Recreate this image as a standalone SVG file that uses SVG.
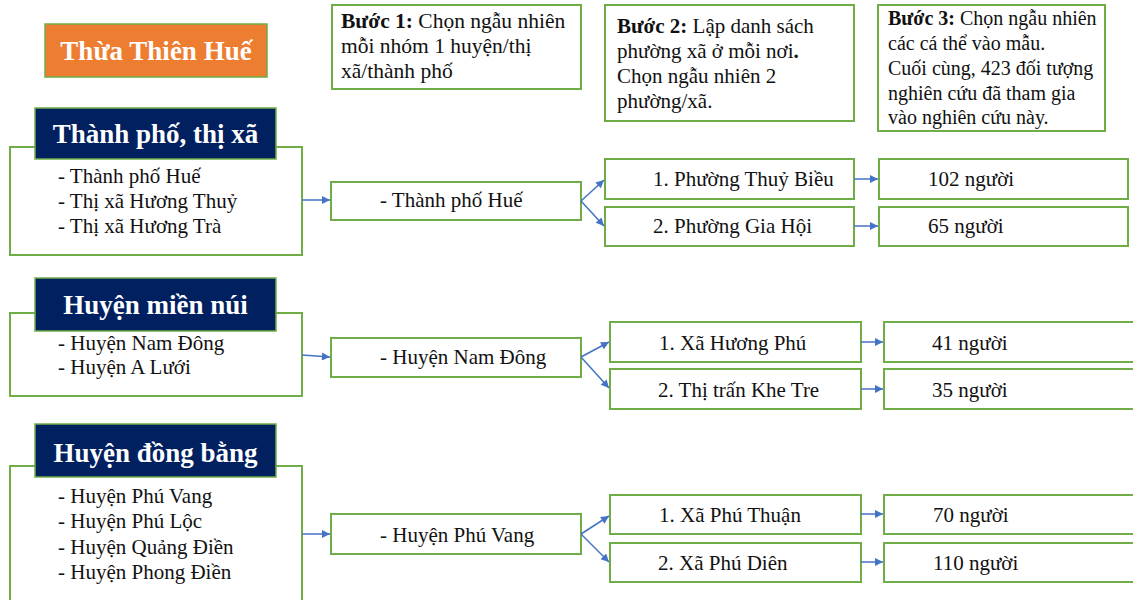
<svg xmlns="http://www.w3.org/2000/svg" width="1133" height="600" viewBox="0 0 1133 600">
<defs>
<marker id="arr" viewBox="0 0 10 10" refX="10" refY="5" markerUnits="userSpaceOnUse" markerWidth="9" markerHeight="8" orient="auto">
<path d="M0,0 L10,5 L0,10 z" fill="#4472C4"/>
</marker>
</defs>
<style>
text{font-family:"Liberation Serif","Times New Roman",serif;fill:#111}
.box{fill:#fff;stroke:#70AD47;stroke-width:2}
.hdr{fill:#002060;stroke:#70AD47;stroke-width:1.5}
.org{fill:#ED7D31;stroke:#70AD47;stroke-width:1.5}
.ht{font-size:27px;font-weight:bold;fill:#fff;text-anchor:middle}
.t{font-size:21px}
.s1{font-size:21.5px}
.s2{font-size:21px}
.s3{font-size:20px}
.b{font-weight:bold}
.c{stroke:#4472C4;stroke-width:1.5;fill:none;marker-end:url(#arr)}
</style>
<rect width="1133" height="600" fill="#fff"/>

<g id="title">
<rect class="org" x="45" y="24" width="222" height="53"/>
<text class="ht" x="156" y="60">Thừa Thiên Huế</text>
</g>

<g id="step1">
<rect class="box" x="332" y="5" width="249" height="84"/>
<text class="s1" x="341" y="28"><tspan class="b">Bước 1:</tspan> Chọn ngẫu nhiên</text>
<text class="s1" x="341" y="53">mỗi nhóm 1 huyện/thị</text>
<text class="s1" x="341" y="78">xã/thành phố</text>
</g>
<g id="step2">
<rect class="box" x="605" y="5" width="249" height="116"/>
<text class="s2" x="617" y="33"><tspan class="b">Bước 2:</tspan> Lập danh sách</text>
<text class="s2" x="617" y="58">phường xã ở mỗi nơi<tspan class="b">.</tspan></text>
<text class="s2" x="617" y="83">Chọn ngẫu nhiên 2</text>
<text class="s2" x="617" y="108">phường/xã.</text>
</g>
<g id="step3">
<rect class="box" x="878" y="5" width="227" height="126"/>
<text class="s3" x="888" y="25"><tspan class="b">Bước 3:</tspan> Chọn ngẫu nhiên</text>
<text class="s3" x="888" y="50">các cá thể vào mẫu.</text>
<text class="s3" x="888" y="75">Cuối cùng, 423 đối tượng</text>
<text class="s3" x="888" y="100">nghiên cứu đã tham gia</text>
<text class="s3" x="888" y="124">vào nghiên cứu này.</text>
</g>

<g id="group1">
<rect class="box" x="10" y="147" width="292" height="108"/>
<rect class="hdr" x="35" y="108" width="241" height="51"/>
<text class="ht" x="155.5" y="143">Thành phố, thị xã</text>
<text class="t" x="58" y="183">- Thành phố Huế</text>
<text class="t" x="58" y="208">- Thị xã Hương Thuỷ</text>
<text class="t" x="58" y="233">- Thị xã Hương Trà</text>
</g>
<g id="group2">
<rect class="box" x="10" y="313" width="292" height="83"/>
<rect class="hdr" x="35" y="278" width="241" height="53"/>
<text class="ht" x="155.5" y="314">Huyện miền núi</text>
<text class="t" x="58" y="350">- Huyện Nam Đông</text>
<text class="t" x="58" y="374">- Huyện A Lưới</text>
</g>
<g id="group3">
<rect class="box" x="10" y="466" width="292" height="150"/>
<rect class="hdr" x="35" y="424" width="241" height="53"/>
<text class="ht" x="155.5" y="462">Huyện đồng bằng</text>
<text class="t" x="58" y="503">- Huyện Phú Vang</text>
<text class="t" x="58" y="528">- Huyện Phú Lộc</text>
<text class="t" x="58" y="554">- Huyện Quảng Điền</text>
<text class="t" x="58" y="579">- Huyện Phong Điền</text>
</g>

<g id="sel1"><rect class="box" x="331" y="182" width="250" height="38"/><text class="t" x="380" y="207">- Thành phố Huế</text></g>
<g id="sel2"><rect class="box" x="331" y="338" width="250" height="39"/><text class="t" x="380" y="364">- Huyện Nam Đông</text></g>
<g id="sel3"><rect class="box" x="331" y="514" width="250" height="40"/><text class="t" x="380" y="542">- Huyện Phú Vang</text></g>

<g id="w1a"><rect class="box" x="605" y="159" width="249" height="40"/><text class="t" x="653" y="186">1. Phường Thuỷ Biều</text></g>
<g id="w1b"><rect class="box" x="605" y="207" width="249" height="39"/><text class="t" x="653" y="233">2. Phường Gia Hội</text></g>
<g id="w2a"><rect class="box" x="610" y="322" width="251" height="40"/><text class="t" x="659" y="350">1. Xã Hương Phú</text></g>
<g id="w2b"><rect class="box" x="610" y="369" width="251" height="40"/><text class="t" x="658" y="397">2. Thị trấn Khe Tre</text></g>
<g id="w3a"><rect class="box" x="610" y="495" width="251" height="39"/><text class="t" x="659" y="522">1. Xã Phú Thuận</text></g>
<g id="w3b"><rect class="box" x="610" y="543" width="251" height="39"/><text class="t" x="658" y="570">2. Xã Phú Diên</text></g>

<g id="n1a"><rect class="box" x="879" y="159" width="249" height="40"/><text class="t" x="928" y="186">102 người</text></g>
<g id="n1b"><rect class="box" x="879" y="207" width="249" height="39"/><text class="t" x="928" y="233">65 người</text></g>
<g id="n2a"><rect class="box" x="884" y="322" width="260" height="40"/><text class="t" x="932" y="350">41 người</text></g>
<g id="n2b"><rect class="box" x="884" y="369" width="260" height="40"/><text class="t" x="932" y="397">35 người</text></g>
<g id="n3a"><rect class="box" x="884" y="495" width="260" height="39"/><text class="t" x="933" y="522">70 người</text></g>
<g id="n3b"><rect class="box" x="884" y="543" width="260" height="39"/><text class="t" x="933" y="570">110 người</text></g>

<g id="connectors">
<path class="c" d="M302,200 L330,200"/>
<path class="c" d="M302,355 L330,357"/>
<path class="c" d="M302,534 L330,534"/>
<path class="c" d="M581,201 L604,180"/>
<path class="c" d="M581,201 L604,226"/>
<path class="c" d="M581,357 L609,342"/>
<path class="c" d="M581,357 L609,388"/>
<path class="c" d="M581,534 L609,516"/>
<path class="c" d="M581,534 L609,562"/>
<path class="c" d="M854,179 L878,179"/>
<path class="c" d="M854,226 L878,226"/>
<path class="c" d="M861,342 L883,342"/>
<path class="c" d="M861,389 L883,389"/>
<path class="c" d="M861,514 L883,514"/>
<path class="c" d="M861,562 L883,562"/>
</g>
</svg>
